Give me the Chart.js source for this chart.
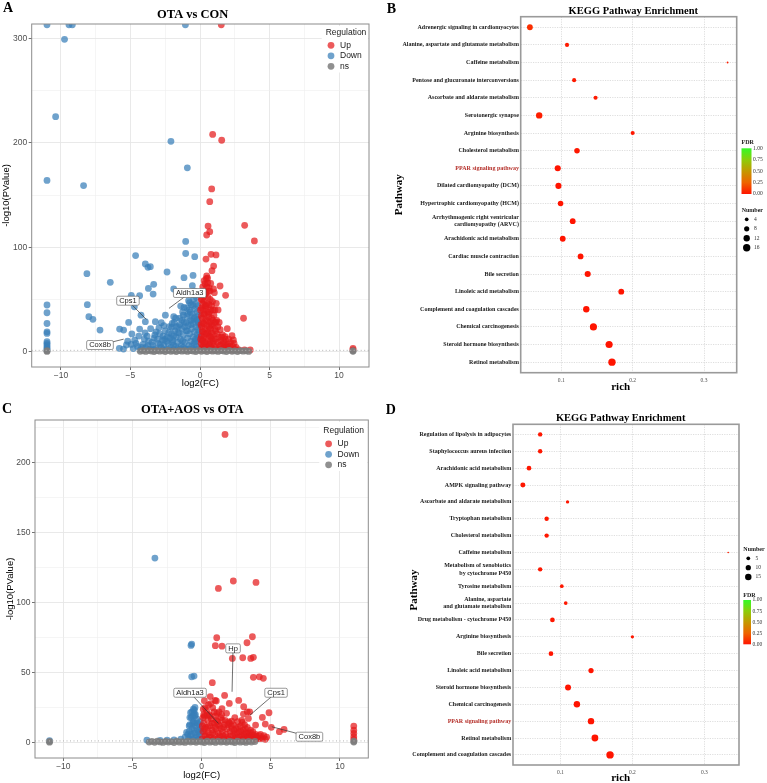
<!DOCTYPE html>
<html>
<head>
<meta charset="utf-8">
<title>Volcano plots and KEGG enrichment</title>
<script src="https://cdn.jsdelivr.net/npm/chart.js@4.4.1/dist/chart.umd.min.js"></script>
<style>
  html, body { margin: 0; padding: 0; background: #fff; }
  #page { position: relative; width: 767px; height: 783px; overflow: hidden; }
  .panel { position: absolute; }
</style>
</head>
<body>
<div id="page">
  <div class="panel" style="left:0;top:0;width:384px;height:392px"><canvas id="chartA"></canvas></div>
  <div class="panel" style="left:384px;top:0;width:383px;height:392px"><canvas id="chartB"></canvas></div>
  <div class="panel" style="left:0;top:392px;width:384px;height:391px"><canvas id="chartC"></canvas></div>
  <div class="panel" style="left:384px;top:392px;width:383px;height:391px"><canvas id="chartD"></canvas></div>
</div>
<script>
// ----------------------------------------------------
// Data: volcano plots ([log2FC, -log10 P] pairs)
// ----------------------------------------------------
const VOLCANO_X_TICKS = [-10, -7.5, -5, -2.5, 0, 2.5, 5, 7.5, 10];
const Y_TICKS_A = [0, 50, 100, 150, 200, 250, 300];
const Y_TICKS_C = [0, 25, 50, 75, 100, 125, 150, 175, 200, 225];
const P_THRESHOLD = 1.3; // -log10(0.05)

// A: OTA vs CON
const upA = [
  [1.53,313],[0.91,208],[1.56,202.4],[0.84,155.8],[0.7,143.6],[0.58,120.3],[0.7,114.9],[0.48,111.7],
  [3.21,121],[3.91,106],[0.79,93.2],[1.15,92.6],[0.43,88.7],[0.98,82],[0.86,77.6],[0.48,72.5],[0.55,70.5],
  [0.77,65.4],[1.44,62.9],[1.03,56.5],[1.84,54],[1.17,46.3],[3.13,32],[1.96,22],[1.8,14.4],[2.3,15.3],
  [2.4,11.2],[1.89,4.8],[3.61,1.6],[11,3.2],[11,1.8],
  [0.05,2],[0.08,8],[0.1,15],[0.12,24],[0.14,4],[0.16,32],[0.18,11],[0.2,19],[0.22,40],[0.24,6],
  [0.26,27],[0.28,48],[0.3,14],[0.32,36],[0.34,3],[0.36,22],[0.38,55],[0.4,9],[0.42,30],[0.44,44],
  [0.46,17],[0.48,62],[0.5,25],[0.52,5],[0.54,38],[0.56,12],[0.58,52],[0.6,20],[0.62,33],[0.64,7],
  [0.66,45],[0.68,15],[0.7,28],[0.72,58],[0.74,10],[0.76,22],[0.78,40],[0.8,4],[0.82,18],[0.84,32],
  [0.86,12],[0.88,25],[0.9,48],[0.93,8],[0.96,16],[1.0,35],[1.03,5],[1.06,22],[1.1,12],[1.14,28],
  [1.18,3],[1.22,17],[1.26,9],[1.3,40],[1.35,14],[1.4,6],[1.45,21],[1.5,11],[1.56,3],[1.62,16],
  [1.68,8],[1.75,4],[1.82,12],[1.9,2.5],[2.0,7],[2.1,3],[2.2,9],[2.35,5],[2.5,2.5],[0.15,50],
  [0.25,58],[0.35,65],[0.45,70],[0.55,66],[0.65,61],[0.1,1.8],[0.3,1.7],[0.5,1.6],[0.7,1.8],[0.9,1.6],
  [1.2,1.7],[1.6,1.8],[2.3,1.6],[2.8,1.6],[3.2,1.7],[0.2,28],[0.4,42],[0.6,36],[0.8,26],[0.33,17],
  [0.97,60],[1.05,28],
  [0.05,12],[0.07,26],[0.1,34],[0.12,42],[0.16,20],[0.18,46],[0.22,10],[0.27,36],[0.3,53],[0.33,8],
  [0.37,44],[0.42,56],[0.45,4],[0.5,46],[0.53,30],[0.57,18],[0.6,58],[0.63,24],[0.67,38],[0.71,6],
  [0.74,50],[0.79,14],[0.83,44],[0.87,3],[0.92,30],[0.95,40],[1.0,10],[1.08,40],[1.12,20],[1.2,30],
  [1.28,24],[1.38,28],[1.48,6],[1.55,14],[1.7,10],[1.85,6],[2.05,12],[2.15,5],[2.45,8],[2.6,4],
  [0.04,40],[0.08,50],[0.2,62],[0.3,68]
];
const downA = [
  [-11,313],[-9.74,299],[-9.42,313],[-9.18,313],[-1.05,313],[-10.38,225],[-2.09,201.4],[-0.91,176],
  [-11,164],[-8.37,159],[-1.03,105.6],[-1.03,94],[-0.38,91],[-4.63,92],[-8.13,74.7],[-3.93,84],
  [-3.74,80.8],[-3.57,81.4],[-2.37,76.3],[-1.15,70.9],[-0.5,73],[-6.45,66.4],[-3.33,64.5],[-3.71,60.6],
  [-3.37,55.2],[-1.89,60],[-0.55,63.2],[-8.1,45],[-7.99,33.5],[-7.7,31],[-7.19,20.7],[-4.94,54],
  [-4.34,53.6],[-4.72,43],[-4.24,35],[-3.93,28.7],[-5.13,28],[-5.78,21.7],[-5.49,20.7],[-4.9,17],
  [-4.34,21.7],[-3.21,28.7],[-2.78,27.8],[-2.49,35],[-1.89,33.5],[-2.04,23.3],[-1.39,43.7],[-1.15,42.4],
  [-0.82,48.8],[-5.8,3.2],[-5.29,6.4],
  [-11,44.7],[-11,37.3],[-11,27],[-11,19],[-11,17.5],[-11,9.6],[-11,8],[-11,6.4],[-11,4.8],[-11,3.2],[-11,1.6],
  [-4.8,3],[-4.5,5],[-4.3,2],[-4.1,7],[-3.9,4],[-3.7,10],[-3.6,2.5],[-3.4,6],[-3.3,13],[-3.2,3],
  [-3.0,8],[-2.9,17],[-2.8,4],[-2.7,11],[-2.6,6],[-2.5,20],[-2.45,2.5],[-2.35,14],[-2.3,8],[-2.2,24],
  [-2.1,4],[-2.05,17],[-1.95,11],[-1.9,6],[-1.85,28],[-1.8,20],[-1.7,14],[-1.65,3],[-1.6,9],[-1.55,24],
  [-1.5,18],[-1.45,32],[-1.4,12],[-1.35,6],[-1.3,22],[-1.25,38],[-1.2,16],[-1.15,28],[-1.1,9],[-1.05,3],
  [-1.0,20],[-0.95,34],[-0.9,13],[-0.85,25],[-0.8,6],[-0.78,40],[-0.75,17],[-0.7,30],[-0.65,10],[-0.62,45],
  [-0.6,22],[-0.55,36],[-0.52,3],[-0.5,14],[-0.47,27],[-0.45,50],[-0.42,8],[-0.4,19],[-0.38,33],[-0.35,41],
  [-0.32,12],[-0.3,24],[-0.28,5],[-0.25,30],[-0.22,16],[-0.2,38],[-0.18,9],[-0.15,21],[-0.12,28],[-0.1,3],
  [-0.08,14],[-0.05,19],[-3.5,1.8],[-3.1,1.5],[-2.7,1.8],[-2.3,1.6],[-1.9,1.7],[-1.5,1.5],[-1.1,1.8],
  [-0.7,1.6],[-0.3,1.7],[-4.6,8],[-4.0,12],[-3.8,15],[-3.15,19],[-2.55,12],[-2.0,9],[-1.75,5],[-1.2,4],
  [-0.9,2.5],[-0.6,5],[-0.35,2.5],
  [-4.7,11],[-4.4,15],[-4.2,4],[-3.95,18],[-3.75,6],[-3.55,22],[-3.45,9],[-3.25,16],[-3.05,12],[-2.95,23],
  [-2.85,7],[-2.65,15],[-2.6,25],[-2.4,10],[-2.25,18],[-2.15,13],[-2.0,27],[-1.9,15],[-1.75,32],[-1.7,24],
  [-1.6,18],[-1.45,26],[-1.4,3],[-1.3,30],[-1.2,35],[-1.1,24],[-1.0,28],[-0.95,42],[-0.9,20],[-0.85,36],
  [-0.75,47],[-0.7,38],[-0.65,26],[-0.55,55],[-0.5,44],[-0.4,58],[-0.3,46],[-0.25,52],[-0.15,44],[-0.1,35],
  [-0.05,26],[-0.2,31],[-0.45,32],[-0.6,30],[-0.35,10],[-0.15,13],[-5.2,10],[-4.95,7],[-5.5,2.5],[-3.35,2],
  [-2.15,2],[-1.25,10]
];
const nsA = [
  [-4.3,0.4],[-4.1,0.9],[-3.9,0.3],[-3.7,1.1],[-3.5,0.6],[-3.3,0.2],[-3.1,1.0],[-2.9,0.5],[-2.7,0.8],
  [-2.5,0.1],[-2.3,1.2],[-2.1,0.4],[-1.9,0.7],[-1.7,0.2],[-1.5,1.1],[-1.3,0.5],[-1.1,0.9],[-0.9,0.3],
  [-0.7,1.0],[-0.5,0.6],[-0.3,0.1],[-0.1,1.2],[0.1,0.4],[0.3,0.9],[0.5,0.2],[0.7,1.1],[0.9,0.5],
  [1.1,0.8],[1.3,0.3],[1.5,1.0],[1.7,0.6],[1.9,0.1],[2.1,1.2],[2.3,0.4],[2.5,0.8],[2.7,0.2],[2.9,1.0],
  [3.1,0.5],[3.3,0.9],[3.5,0.3],[-11,0.3],[-11,1.0],[11,0.4],[11,0.9]
];
const genesA = [
  { gene: 'Cps1',    bx: -5.18, by: 48.8, px: -3.86, py: 30.9 },
  { gene: 'Aldh1a3', bx: -0.74, by: 56.2, px: -2.23, py: 41.5 },
  { gene: 'Cox8b',   bx: -7.19, by: 6.4,  px: -5.49, py: 12 }
];

// C: OTA+AOS vs OTA
const upC = [
  [1.69,220.2],[2.29,115.5],[3.93,114.5],[1.21,110.2],[1.09,75],[3.67,75.7],[0.99,69.3],[1.47,69],
  [3.28,71.4],[2.22,60.2],[2.97,60.7],[3.55,60.2],[3.74,61],[3.74,46.7],[4.17,47.1],[4.46,46],
  [0.77,42.9],[1.66,33.8],[0.97,30.2],[1.06,29.8],[2.68,30.2],[2.0,28.1],[1.47,24.3],[3.04,25.7],
  [3.02,20.5],[3.3,22.1],[3.47,22.1],[4.87,21.4],[4.39,18.1],[2.94,14.5],[1.95,14.8],[2.17,15.5],
  [3.38,17.4],[3.9,12.6],[4.6,13.3],[5.04,11],[5.96,9.5],[5.62,7.9],
  [11,11.9],[11,9],[11,6.7],[11,4.3],[11,2.4],
  [0.05,3],[0.1,8],[0.15,14],[0.2,19],[0.25,5],[0.3,11],[0.35,23],[0.4,2.5],[0.45,16],[0.5,7],
  [0.55,20],[0.6,12],[0.65,4],[0.7,17],[0.75,9],[0.8,25],[0.85,3],[0.9,14],[0.95,6],[1.0,19],
  [1.05,10],[1.1,2.5],[1.15,15],[1.2,7],[1.3,12],[1.35,4],[1.4,18],[1.5,8],[1.6,3],[1.65,13],
  [1.75,6],[1.85,10],[1.95,3],[2.05,8],[2.15,12],[2.25,5],[2.35,9],[2.45,3],[2.55,7],[2.65,11],
  [2.75,4],[2.85,8],[2.95,2.5],[3.05,6],[3.15,10],[3.25,3],[3.35,7],[3.45,4],[3.55,9],[3.65,3],
  [3.75,5.5],[3.85,2.5],[3.95,4.5],[4.1,3],[4.25,6],[4.4,3.5],[0.2,30],[0.5,27],[0.3,1.7],[0.7,1.6],
  [1.2,1.8],[1.7,1.7],[2.2,1.6],[2.7,1.8],[3.2,1.6],[3.7,1.7],[0.62,33],[1.25,22],[0.12,24],[1.5,16],
  [2.0,14],[2.6,15],[3.1,13],[1.8,21],[2.4,18],[2.9,16],
  [0.1,18],[0.2,10],[0.25,25],[0.35,6],[0.4,20],[0.45,11],[0.55,4],[0.6,19],[0.65,28],[0.75,14],
  [0.8,7],[0.9,22],[0.95,11],[1.05,16],[1.1,21],[1.2,13],[1.3,5],[1.4,10],[1.45,20],[1.55,5],
  [1.6,11],[1.7,16],[1.8,4],[1.9,13],[2.1,5],[2.2,10],[2.3,13],[2.4,6],[2.5,10],[2.6,4],
  [2.7,8],[2.8,12],[2.9,5],[3.0,9],[3.1,4],[3.2,7],[3.3,11],[3.4,5],[3.5,7],[3.6,5],
  [3.7,8],[3.8,4],[3.9,6],[4.0,3],[4.15,5],[4.3,3],[4.5,5],[4.6,2.5],[4.7,4],[0.05,12],[0.15,20]
];
const downC = [
  [-3.38,131.9],[-0.72,70.5],[-0.77,69.5],[-0.72,47.1],[-0.55,47.6],[-0.48,25.2],[-0.53,23.3],
  [-0.8,21.4],[-0.53,13.8],[-1.09,7.4],[-3.96,1.9],[-11,1.5],
  [-0.95,3],[-0.9,8],[-0.85,13],[-0.8,5],[-0.75,18],[-0.7,10],[-0.65,2.5],[-0.6,15],[-0.55,21],
  [-0.5,7],[-0.45,12],[-0.4,4],[-0.35,17],[-0.3,9],[-0.25,2.5],[-0.2,13],[-0.15,6],[-0.1,10],
  [-0.05,3],[-0.6,24],[-0.5,19],[-0.7,22],[-1.2,4],[-1.5,2.5],[-2.0,2],[-2.5,1.8],[-3.0,1.6],
  [-0.4,1.7],[-0.8,1.6],[-1.0,6],
  [-0.9,12],[-0.85,18],[-0.75,6],[-0.65,14],[-0.55,9],[-0.45,20],[-0.35,5],[-0.3,14],[-0.2,8],
  [-0.1,15],[-0.05,8],[-0.65,19]
];
const nsC = [
  [-3.8,0.5],[-3.6,1.0],[-3.4,0.3],[-3.2,1.1],[-3.0,0.6],[-2.8,0.2],[-2.6,1.0],[-2.4,0.5],[-2.2,0.8],
  [-2.0,0.1],[-1.8,1.2],[-1.6,0.4],[-1.4,0.7],[-1.2,0.2],[-1.0,1.1],[-0.8,0.5],[-0.6,0.9],[-0.4,0.3],
  [-0.2,1.0],[0.0,0.6],[0.2,0.1],[0.4,1.2],[0.6,0.4],[0.8,0.9],[1.0,0.2],[1.2,1.1],[1.4,0.5],[1.6,0.8],
  [1.8,0.3],[2.0,1.0],[2.2,0.6],[2.4,0.1],[2.6,1.2],[2.8,0.4],[3.0,0.8],[3.2,0.2],[3.4,1.0],[3.6,0.5],
  [3.85,0.9],[-11,0.4],[-11,1.0],[11,0.5],[11,1.1]
];
const genesC = [
  { gene: 'Hp',      bx: 2.27,  by: 67.4, px: 2.2,  py: 36.4 },
  { gene: 'Aldh1a3', bx: -0.84, by: 35.7, px: 1.21, py: 13.8 },
  { gene: 'Cps1',    bx: 5.38,  by: 35.7, px: 3.5,  py: 19.8 },
  { gene: 'Cox8b',   bx: 7.79,  by: 4.3,  px: 5.07, py: 11.4 }
];

// ----------------------------------------------------
// Data: KEGG enrichment (top row first)
// ----------------------------------------------------
const RICH_TICKS = [0.1, 0.2, 0.3];
const FDR_TICKS = ['1.00', '0.75', '0.50', '0.25', '0.00'];
const HIGHLIGHT_PATHWAY = 'PPAR signaling pathway';

const pathwaysB = [
  'Adrenergic signaling in cardiomyocytes',
  'Alanine, aspartate and glutamate metabolism',
  'Caffeine metabolism',
  'Pentose and glucuronate interconversions',
  'Ascorbate and aldarate metabolism',
  'Serotonergic synapse',
  'Arginine biosynthesis',
  'Cholesterol metabolism',
  'PPAR signaling pathway',
  'Dilated cardiomyopathy (DCM)',
  'Hypertrophic cardiomyopathy (HCM)',
  'Arrhythmogenic right ventricular\ncardiomyopathy (ARVC)',
  'Arachidonic acid metabolism',
  'Cardiac muscle contraction',
  'Bile secretion',
  'Linoleic acid metabolism',
  'Complement and coagulation cascades',
  'Chemical carcinogenesis',
  'Steroid hormone biosynthesis',
  'Retinol metabolism'
];
const richB = [0.056, 0.108, 0.333, 0.118, 0.148, 0.069, 0.2, 0.122, 0.095, 0.096,
               0.099, 0.116, 0.102, 0.127, 0.137, 0.184, 0.135, 0.145, 0.167, 0.171];
const countB = [10, 5, 1, 5, 5, 12, 5, 9, 11, 11, 9, 10, 10, 10, 11, 10, 12, 15, 15, 16];
const fdrB = [0.08, 0.02, 0.03, 0.02, 0.02, 0.03, 0.01, 0.01, 0, 0, 0, 0, 0, 0, 0, 0, 0, 0, 0, 0];
const numberBreaksB = [4, 8, 12, 16];

const pathwaysD = [
  'Regulation of lipolysis in adipocytes',
  'Staphylococcus aureus infection',
  'Arachidonic acid metabolism',
  'AMPK signaling pathway',
  'Ascorbate and aldarate metabolism',
  'Tryptophan metabolism',
  'Cholesterol metabolism',
  'Caffeine metabolism',
  'Metabolism of xenobiotics\nby cytochrome P450',
  'Tyrosine metabolism',
  'Alanine, aspartate\nand glutamate metabolism',
  'Drug metabolism - cytochrome P450',
  'Arginine biosynthesis',
  'Bile secretion',
  'Linoleic acid metabolism',
  'Steroid hormone biosynthesis',
  'Chemical carcinogenesis',
  'PPAR signaling pathway',
  'Retinol metabolism',
  'Complement and coagulation cascades'
];
const richD = [0.072, 0.072, 0.0565, 0.048, 0.110, 0.081, 0.081, 0.333, 0.072, 0.102,
               0.1075, 0.089, 0.2, 0.087, 0.1426, 0.1107, 0.123, 0.1426, 0.148, 0.169];
const countD = [7, 7, 8, 9, 4, 7, 7, 1, 7, 5, 5, 8, 4, 8, 10, 13, 15, 15, 17, 20];
const fdrD = [0.01, 0.01, 0.01, 0.01, 0.01, 0.01, 0.01, 0.03, 0.01, 0.01, 0.01, 0.01, 0.01, 0, 0, 0, 0, 0, 0, 0];
const numberBreaksD = [5, 10, 15];

// ----------------------------------------------------
// Styling
// ----------------------------------------------------
const SANS = '"Liberation Sans", Arial, sans-serif';
const SERIF = '"Liberation Serif", "Times New Roman", serif';
const UP_COLOR = 'rgba(228,26,28,0.72)';
const DOWN_COLOR = 'rgba(55,126,184,0.72)';
const NS_COLOR = 'rgba(125,125,125,0.85)';
const POINT_R = 3.4;

const pairs = arr => arr.map(([x, y]) => ({ x, y }));
const minusFmt = v => (v < 0 ? '\u2212' + Math.abs(v) : String(v));

// FDR colour bar: red (0) -> green (1)
const FDR_STOPS = [[0, [255, 20, 0]], [0.25, [238, 100, 0]], [0.5, [196, 152, 0]], [0.75, [140, 205, 10]], [1, [50, 250, 40]]];
function fdrColor(f) {
  for (let i = 1; i < FDR_STOPS.length; i++) {
    const [p1, c1] = FDR_STOPS[i], [p0, c0] = FDR_STOPS[i - 1];
    if (f <= p1) {
      const t = (f - p0) / (p1 - p0);
      const c = c0.map((v, k) => Math.round(v + (c1[k] - v) * t));
      return `rgb(${c[0]},${c[1]},${c[2]})`;
    }
  }
  return 'rgb(50,250,40)';
}

function drawText(ctx, text, x, y, font, color, align, rotate) {
  ctx.save();
  ctx.font = font;
  ctx.fillStyle = color;
  ctx.textAlign = align || 'center';
  ctx.textBaseline = 'middle';
  ctx.translate(x, y);
  if (rotate) ctx.rotate(rotate);
  ctx.fillText(text, 0, 0);
  ctx.restore();
}

// ----------------------------------------------------
// Volcano plot
// ----------------------------------------------------
function makeVolcano(id, d) {
  const g = d.geo;
  const decor = {
    id: 'volcanoDecor',
    afterDatasetsDraw(chart) {
      const { ctx, chartArea: a, scales: { x, y } } = chart;
      ctx.save();
      // significance threshold
      const ty = y.getPixelForValue(P_THRESHOLD);
      ctx.setLineDash([1, 2.5]);
      ctx.strokeStyle = '#b4b4b4';
      ctx.lineWidth = 1;
      ctx.beginPath(); ctx.moveTo(a.left, ty); ctx.lineTo(a.right, ty); ctx.stroke();
      ctx.setLineDash([]);

      // labelled genes
      ctx.font = '7.5px ' + SANS;
      d.genes.forEach(l => {
        const bx = x.getPixelForValue(l.bx), by = y.getPixelForValue(l.by);
        const px = x.getPixelForValue(l.px), py = y.getPixelForValue(l.py);
        ctx.strokeStyle = '#333'; ctx.lineWidth = 0.7;
        ctx.beginPath(); ctx.moveTo(bx, by); ctx.lineTo(px, py); ctx.stroke();
        const w = ctx.measureText(l.gene).width + 5, h = 9;
        ctx.fillStyle = '#fff'; ctx.strokeStyle = '#555'; ctx.lineWidth = 0.6;
        ctx.beginPath(); ctx.roundRect(bx - w / 2, by - h / 2, w, h, 1.5); ctx.fill(); ctx.stroke();
        ctx.fillStyle = '#222'; ctx.textAlign = 'center'; ctx.textBaseline = 'middle';
        ctx.fillText(l.gene, bx, by + 0.3);
      });

      // legend (inside, top right)
      ctx.fillStyle = '#fff';
      ctx.fillRect(g.legX - 4, a.top + 2, a.right - g.legX + 3, g.legY - a.top + 38);
      drawText(ctx, 'Regulation', g.legX, g.legY, '8.5px ' + SANS, '#1a1a1a', 'left');
      [['Up', UP_COLOR], ['Down', DOWN_COLOR], ['ns', NS_COLOR]].forEach(([name, col], i) => {
        const ky = g.legY + 12.8 + i * 10.5;
        ctx.fillStyle = col;
        ctx.beginPath(); ctx.arc(g.legX + 5.3, ky, POINT_R, 0, Math.PI * 2); ctx.fill();
        drawText(ctx, name, g.legX + 14.3, ky, '8.5px ' + SANS, '#1a1a1a', 'left');
      });

      // panel frame
      ctx.strokeStyle = '#8c8c8c'; ctx.lineWidth = 1;
      ctx.strokeRect(a.left, a.top, a.width, a.height);
      ctx.restore();

      // titles
      drawText(ctx, d.letter, g.letterX, g.letterY, 'bold 14px ' + SERIF, '#000', 'left');
      drawText(ctx, d.title, g.titleX, g.titleY, 'bold 12.5px ' + SERIF, '#000');
      drawText(ctx, '-log10(PValue)', g.yTitleX, (a.top + a.bottom) / 2, '9.5px ' + SANS, '#000', 'center', -Math.PI / 2);
      drawText(ctx, 'log2(FC)', (a.left + a.right) / 2, g.xTitleY, '9.5px ' + SANS, '#000');
    }
  };

  const isMajorX = v => v % 5 === 0;
  const isMajorY = v => v % d.yMajor === 0;
  return new Chart(document.getElementById(id), {
    type: 'scatter',
    data: {
      datasets: [
        { label: 'ns', data: pairs(d.ns), backgroundColor: NS_COLOR },
        { label: 'Up', data: pairs(d.up), backgroundColor: UP_COLOR },
        { label: 'Down', data: pairs(d.down), backgroundColor: DOWN_COLOR }
      ].map(ds => Object.assign(ds, { pointRadius: POINT_R, borderWidth: 0, clip: 0 }))
    },
    options: {
      animation: false,
      responsive: true,
      maintainAspectRatio: false,
      events: [],
      layout: { padding: { top: g.top, right: g.right, left: 0, bottom: 0 } },
      plugins: { legend: { display: false }, tooltip: { enabled: false } },
      scales: {
        x: {
          type: 'linear', min: g.xMin, max: g.xMax,
          afterBuildTicks: s => { s.ticks = VOLCANO_X_TICKS.map(v => ({ value: v })); },
          afterFit: s => { s.height = g.xH; },
          ticks: { autoSkip: false, maxRotation: 0, padding: 1, color: '#4d4d4d',
                   font: { family: SANS, size: 8.5 }, callback: v => (isMajorX(v) ? minusFmt(v) : '') },
          grid: { color: c => (isMajorX(c.tick.value) ? '#e6e6e6' : '#efefef'),
                  lineWidth: c => (isMajorX(c.tick.value) ? 0.9 : 0.6),
                  tickColor: c => (isMajorX(c.tick.value) ? '#333' : 'rgba(0,0,0,0)'),
                  tickLength: 3, tickWidth: 0.7 },
          border: { display: false }
        },
        y: {
          type: 'linear', min: g.yMin, max: g.yMax,
          afterBuildTicks: s => { s.ticks = d.yTicks.map(v => ({ value: v })); },
          afterFit: s => { s.width = g.yW; },
          ticks: { autoSkip: false, padding: 1.5, color: '#4d4d4d',
                   font: { family: SANS, size: 8.5 }, callback: v => (isMajorY(v) ? String(v) : '') },
          grid: { color: c => (isMajorY(c.tick.value) ? '#e6e6e6' : '#efefef'),
                  lineWidth: c => (isMajorY(c.tick.value) ? 0.9 : 0.6),
                  tickColor: c => (isMajorY(c.tick.value) ? '#333' : 'rgba(0,0,0,0)'),
                  tickLength: 3, tickWidth: 0.7 },
          border: { display: false }
        }
      }
    },
    plugins: [decor]
  });
}

// ----------------------------------------------------
// KEGG bubble plot
// ----------------------------------------------------
function makeKegg(id, k) {
  const g = k.geo;
  const radius = n => k.sizeK * Math.sqrt(n);
  const labels = k.pathways.map(p => p.split('\n'));

  const decor = {
    id: 'keggDecor',
    afterDatasetsDraw(chart) {
      const { ctx, chartArea: a } = chart;
      ctx.save();
      ctx.strokeStyle = '#9a9a9a'; ctx.lineWidth = 1.6;
      ctx.strokeRect(a.left, a.top, a.width, a.height);

      // FDR colour bar
      const L = g.legend;
      drawText(ctx, 'FDR', L.fdrX, L.fdrTitleY, 'bold 6px ' + SERIF, '#1a1a1a', 'left');
      const grad = ctx.createLinearGradient(0, L.barTop + L.barH, 0, L.barTop);
      FDR_STOPS.forEach(([p]) => grad.addColorStop(p, fdrColor(p)));
      ctx.fillStyle = grad;
      ctx.fillRect(L.fdrX, L.barTop, L.barW, L.barH);
      FDR_TICKS.forEach((t, i) => {
        const ty = L.barTop + (L.barH * i) / (FDR_TICKS.length - 1);
        drawText(ctx, t, L.fdrX + L.barW + 1.5, ty, '5.5px ' + SERIF, '#333', 'left');
      });

      // Number (size) legend
      drawText(ctx, 'Number', L.numX, L.numTitleY, 'bold 6px ' + SERIF, '#1a1a1a', 'left');
      k.numberBreaks.forEach((n, i) => {
        const ky = L.numY0 + i * L.numStep;
        ctx.fillStyle = '#000';
        ctx.beginPath(); ctx.arc(L.numX + 5, ky, radius(n), 0, Math.PI * 2); ctx.fill();
        drawText(ctx, String(n), L.numX + 12.3, ky, '5.5px ' + SERIF, '#333', 'left');
      });
      ctx.restore();

      drawText(ctx, k.letter, g.letterX, g.letterY, 'bold 14px ' + SERIF, '#000', 'left');
      drawText(ctx, 'KEGG Pathway Enrichment', g.titleX, g.titleY, 'bold 10.5px ' + SERIF, '#000');
      drawText(ctx, 'Pathway', g.yTitleX, g.yTitleY, 'bold 11px ' + SERIF, '#000', 'center', -Math.PI / 2);
      drawText(ctx, 'rich', g.xTitleX, g.xTitleY, 'bold 11px ' + SERIF, '#000');
    }
  };

  return new Chart(document.getElementById(id), {
    type: 'scatter',
    data: {
      datasets: [{
        data: k.rich.map((r, i) => ({ x: r, y: i })),
        pointRadius: k.count.map(radius),
        backgroundColor: k.fdr.map(fdrColor),
        borderWidth: 0
      }]
    },
    options: {
      animation: false,
      responsive: true,
      maintainAspectRatio: false,
      events: [],
      layout: { padding: { top: g.top, right: g.right, left: 0, bottom: 0 } },
      plugins: { legend: { display: false }, tooltip: { enabled: false } },
      scales: {
        x: {
          type: 'linear', min: g.xMin, max: g.xMax,
          afterBuildTicks: s => { s.ticks = RICH_TICKS.map(v => ({ value: v })); },
          afterFit: s => { s.height = g.xH; },
          ticks: { autoSkip: false, maxRotation: 0, padding: g.xTickPad, color: '#4d4d4d',
                   font: { family: SERIF, size: 5.5 }, callback: v => String(v) },
          grid: { color: '#d6d6d6', lineWidth: 0.8, drawTicks: false },
          border: { display: false, dash: [1.2, 1.2] }
        },
        y: {
          type: 'linear', reverse: true, min: -0.6, max: k.pathways.length - 0.4,
          afterBuildTicks: s => { s.ticks = k.pathways.map((_, i) => ({ value: i })); },
          afterFit: s => { s.width = g.yW; },
          ticks: { autoSkip: false, padding: 1.8,
                   color: c => (k.pathways[c.tick.value] === HIGHLIGHT_PATHWAY ? '#b5302a' : '#1a1a1a'),
                   font: { family: SERIF, size: 6, weight: 'bold', lineHeight: 1.25 },
                   callback: v => labels[v] },
          grid: { color: '#d6d6d6', lineWidth: 0.8, drawTicks: false },
          border: { display: false, dash: [1.2, 1.2] }
        }
      }
    },
    plugins: [decor]
  });
}

// ----------------------------------------------------
// Build the four panels
// ----------------------------------------------------
makeVolcano('chartA', {
  letter: 'A', title: 'OTA vs CON',
  up: upA, down: downA, ns: nsA, genes: genesA, yTicks: Y_TICKS_A, yMajor: 100,
  geo: { top: 24, right: 15, yW: 31.7, xH: 25, xMin: -12.1, xMax: 12.15, yMin: -14.65, yMax: 313.7,
         legX: 325.7, legY: 32.5, letterX: 3, letterY: 8.5, titleX: 192.7, titleY: 15,
         yTitleX: 6.7, xTitleY: 383 }
});

makeKegg('chartB', {
  letter: 'B', pathways: pathwaysB, rich: richB, count: countB, fdr: fdrB,
  numberBreaks: numberBreaksB, sizeK: 0.92,
  geo: { top: 16.7, right: 30.3, yW: 136.7, xH: 19.3, xMin: 0.0431, xMax: 0.3458, xTickPad: 5,
         letterX: 2.7, letterY: 9.3, titleX: 249.3, titleY: 11.7,
         yTitleX: 15, yTitleY: 194.7, xTitleX: 236.7, xTitleY: 386.7,
         legend: { fdrX: 357.5, fdrTitleY: 142.3, barTop: 148.3, barW: 10, barH: 45.7,
                   numX: 357.7, numTitleY: 210, numY0: 219.3, numStep: 9.5 } }
});

makeVolcano('chartC', {
  letter: 'C', title: 'OTA+AOS vs OTA',
  up: upC, down: downC, ns: nsC, genes: genesC, yTicks: Y_TICKS_C, yMajor: 50,
  geo: { top: 28, right: 15.7, yW: 35, xH: 25, xMin: -12.05, xMax: 12.05, yMin: -10.9, yMax: 230.5,
         legX: 323.3, legY: 39, letterX: 2, letterY: 17.3, titleX: 192.3, titleY: 18,
         yTitleX: 10, xTitleY: 383.7 }
});

makeKegg('chartD', {
  letter: 'D', pathways: pathwaysD, rich: richD, count: countD, fdr: fdrD,
  numberBreaks: numberBreaksD, sizeK: 0.83,
  geo: { top: 32.3, right: 28, yW: 129, xH: 18, xMin: 0.0343, xMax: 0.348, xTickPad: 4,
         letterX: 1.7, letterY: 18, titleX: 236.7, titleY: 26.3,
         yTitleX: 30, yTitleY: 198, xTitleX: 236.7, xTitleY: 386.3,
         legend: { fdrX: 359.3, fdrTitleY: 203, barTop: 208, barW: 7.7, barH: 44.3,
                   numX: 359.3, numTitleY: 157.3, numY0: 166.3, numStep: 9.35 } }
});
</script>
</body>
</html>
